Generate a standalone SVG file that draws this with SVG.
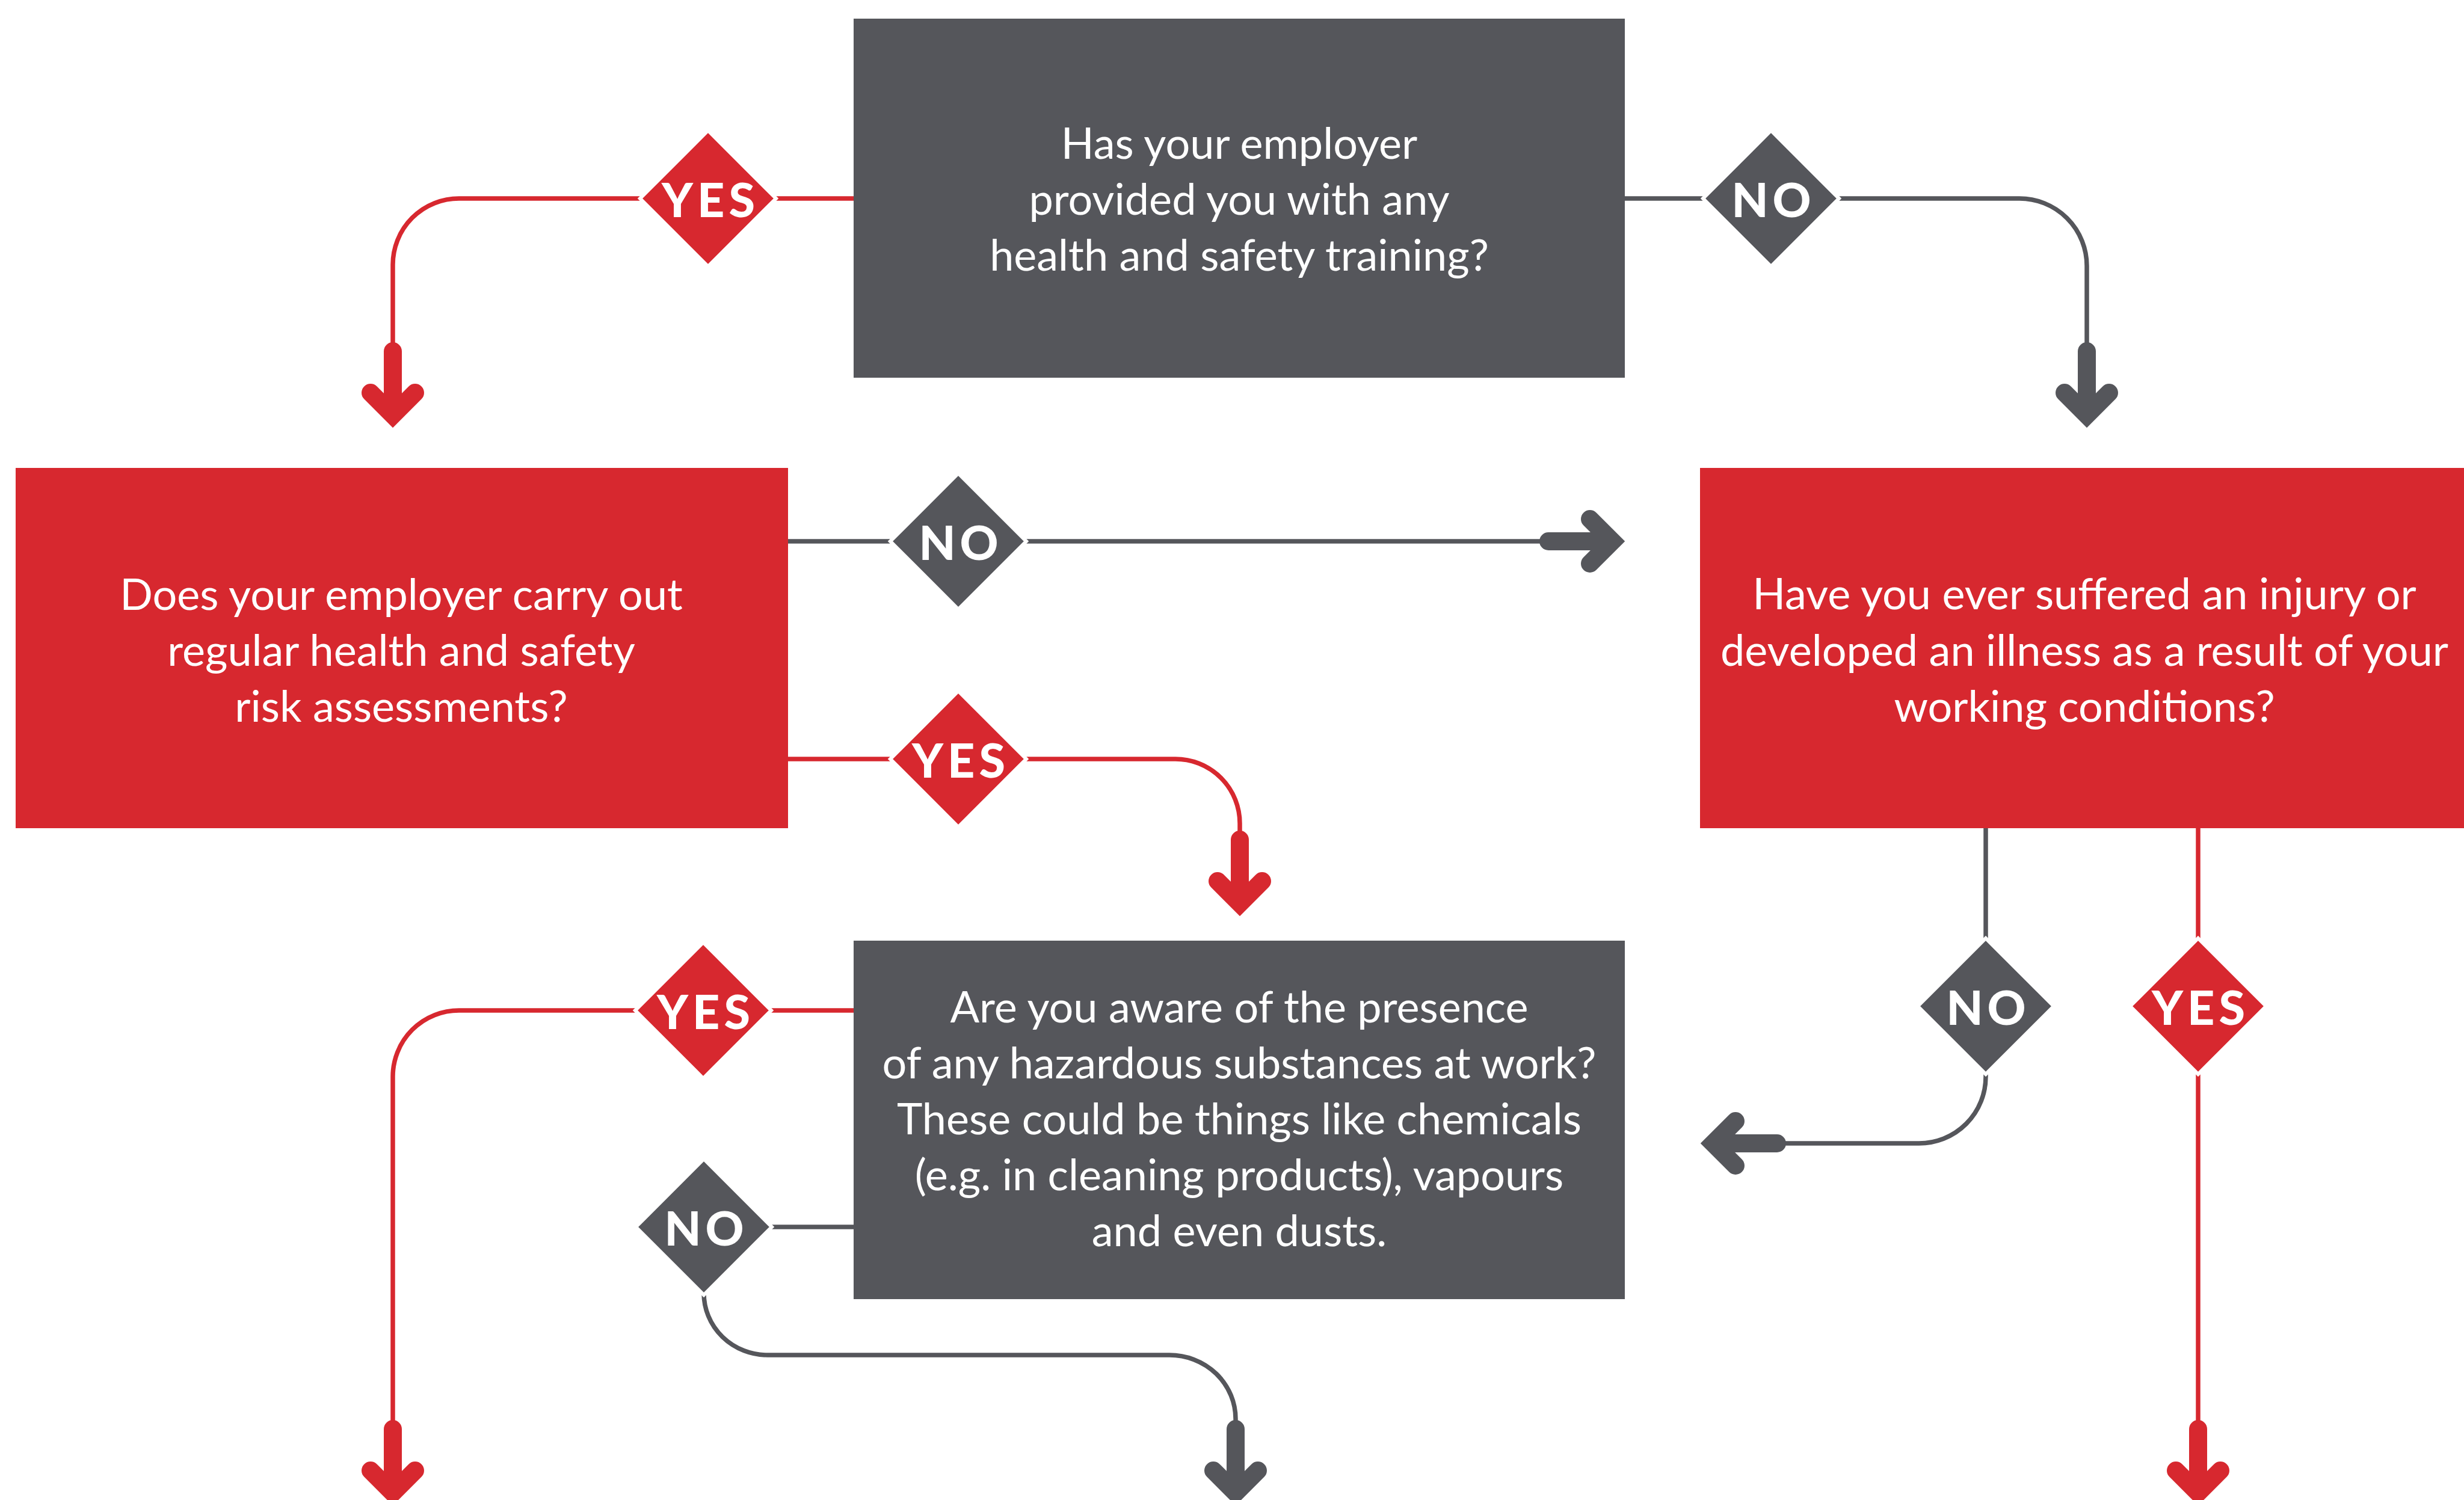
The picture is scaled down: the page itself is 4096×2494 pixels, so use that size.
<svg xmlns="http://www.w3.org/2000/svg" xmlns:xlink="http://www.w3.org/1999/xlink" width="4096" height="2494" viewBox="0 0 4096 2494">
<style>
.bg{fill:#ffffff}
.gbox{fill:#55565B}
.rbox{fill:#D7282F}
.t{font-family:Lato,"Open Sans","Liberation Sans",sans-serif;font-size:72px;fill:#ffffff;text-anchor:middle}
.lbl{font-family:Lato,"Open Sans","Liberation Sans",sans-serif;font-weight:900;font-size:79px;fill:#ffffff;text-anchor:middle;letter-spacing:7px}
.dr{fill:#D7282F;stroke:#ffffff;stroke-width:6}
.dg{fill:#55565B;stroke:#ffffff;stroke-width:6}
.ln{fill:none;stroke-width:7.5}
.red{stroke:#D7282F}
.gray{stroke:#55565B}
.ah{fill:none;stroke-width:30;stroke-linecap:round;stroke-linejoin:miter}
</style>
<defs>
<path id="arrowDown" d="M0,-127 V-21 M-37,-58 L0,-21 L37,-58"/>
</defs>
<rect class="bg" x="0" y="0" width="4096" height="2494"/>
<g id="connectors">
  <path class="ln red" d="M1419,330 H763 A110,110 0 0 0 653,440 V620"/>
  <use xlink:href="#arrowDown" class="ah red" transform="translate(653,711)"/>
  <path class="ln gray" d="M2701,330 H3357 A112,112 0 0 1 3469,442 V620"/>
  <use xlink:href="#arrowDown" class="ah gray" transform="translate(3469,711)"/>
  <path class="ln gray" d="M1309,900 H2620"/>
  <use xlink:href="#arrowDown" class="ah gray" transform="translate(2701,900) rotate(-90)"/>
  <path class="ln red" d="M1309,1262 H1954 A107,107 0 0 1 2061,1369 V1440"/>
  <use xlink:href="#arrowDown" class="ah red" transform="translate(2061,1523)"/>
  <path class="ln red" d="M1419,1680 H763 A110,110 0 0 0 653,1790 V2420"/>
  <use xlink:href="#arrowDown" class="ah red" transform="translate(653,2503)"/>
  <path class="ln gray" d="M1170,2040 H1419"/>
  <path class="ln gray" d="M1170,2150 A106,103 0 0 0 1276,2253 H1944 A110,106 0 0 1 2054,2359 V2420"/>
  <use xlink:href="#arrowDown" class="ah gray" transform="translate(2054,2503)"/>
  <path class="ln gray" d="M3301,1377 V1790 A111,111 0 0 1 3190,1901 H2910"/>
  <use xlink:href="#arrowDown" class="ah gray" transform="translate(2827,1901) rotate(90)"/>
  <path class="ln red" d="M3654,1377 V2420"/>
  <use xlink:href="#arrowDown" class="ah red" transform="translate(3654,2503)"/>
</g>
<g id="q-training">
  <rect class="gbox" x="1419" y="31" width="1282" height="597"/>
  <text class="t" x="2060" y="264">Has your employer</text>
  <text class="t" x="2060" y="357">provided you with any</text>
  <text class="t" x="2060" y="450">health and safety training?</text>
</g>
<g id="q-risk">
  <rect class="rbox" x="26" y="778" width="1284" height="599"/>
  <text class="t" x="667" y="1014">Does your employer carry out</text>
  <text class="t" x="667" y="1107">regular health and safety</text>
  <text class="t" x="667" y="1200">risk assessments?</text>
</g>
<g id="q-injury">
  <rect class="rbox" x="2826" y="778" width="1290" height="599"/>
  <text class="t" x="3465" y="1013">Have you ever suffered an injury or</text>
  <text class="t" x="3465" y="1107">developed an illness as a result of your</text>
  <text class="t" x="3465" y="1200">working conditions?</text>
</g>
<g id="q-hazard">
  <rect class="gbox" x="1419" y="1564" width="1282" height="596"/>
  <text class="t" x="2060" y="1700">Are you aware of the presence</text>
  <text class="t" x="2060" y="1793">of any hazardous substances at work?</text>
  <text class="t" x="2060" y="1886">These could be things like chemicals</text>
  <text class="t" x="2060" y="1979">(e.g. in cleaning products), vapours</text>
  <text class="t" x="2060" y="2072">and even dusts.</text>
</g>
<g id="d-yes-1">
  <polygon class="dr" points="1177,217 1290,330 1177,443 1064,330"/>
  <text class="lbl" x="1181" y="361">YES</text>
</g>
<g id="d-no-1">
  <polygon class="dg" points="2944,217 3057,330 2944,443 2831,330"/>
  <text class="lbl" x="2948" y="361">NO</text>
</g>
<g id="d-no-2">
  <polygon class="dg" points="1593,787 1706,900 1593,1013 1480,900"/>
  <text class="lbl" x="1597" y="931">NO</text>
</g>
<g id="d-yes-2">
  <polygon class="dr" points="1593,1149 1706,1262 1593,1375 1480,1262"/>
  <text class="lbl" x="1597" y="1293">YES</text>
</g>
<g id="d-yes-3">
  <polygon class="dr" points="1169,1567 1282,1680 1169,1793 1056,1680"/>
  <text class="lbl" x="1173" y="1711">YES</text>
</g>
<g id="d-no-3">
  <polygon class="dg" points="1170,1927 1283,2040 1170,2153 1057,2040"/>
  <text class="lbl" x="1174" y="2071">NO</text>
</g>
<g id="d-no-4">
  <polygon class="dg" points="3301,1560 3414,1673 3301,1786 3188,1673"/>
  <text class="lbl" x="3305" y="1704">NO</text>
</g>
<g id="d-yes-4">
  <polygon class="dr" points="3654,1560 3767,1673 3654,1786 3541,1673"/>
  <text class="lbl" x="3658" y="1704">YES</text>
</g>
</svg>
